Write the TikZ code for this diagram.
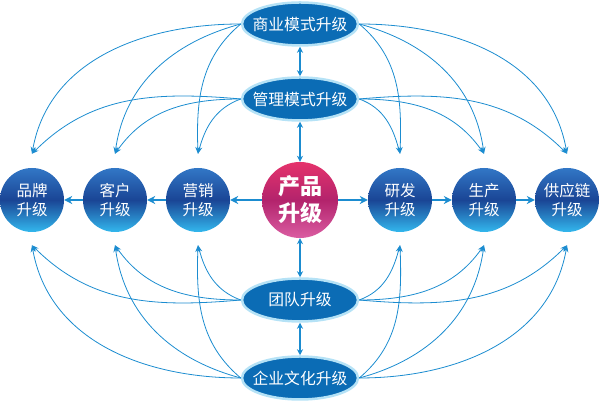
\documentclass[tikz,border=0pt]{standalone}
\usepackage{fontspec}
\setmainfont{Noto Sans CJK SC}
\usetikzlibrary{arrows.meta,shapes.geometric}
\definecolor{linkblue}{HTML}{1B8CD0}
\definecolor{ovalblue}{HTML}{0B6CB5}
\definecolor{ovalrim}{HTML}{B5E2F6}
\definecolor{balltop}{HTML}{3277C6}
\definecolor{ballmid}{HTML}{1A4595}
\definecolor{ballbot}{HTML}{33B8EE}
\definecolor{rosetop}{HTML}{E5336C}
\definecolor{rosemid}{HTML}{B3236C}
\definecolor{rosebot}{HTML}{DA5DA2}
\tikzset{
	oval/.style={ellipse, fill=ovalblue, draw=ovalrim, line width=2.5pt, minimum width=116pt, minimum height=43pt, inner xsep=-7pt, inner ysep=0pt, text=white, font=\fontsize{15.8}{18}\selectfont},
	ball/.style={circle, minimum size=64pt, inner sep=0pt, top color=balltop, bottom color=ballbot, middle color=ballmid, text=white, align=center, font=\fontsize{15.5}{19}\selectfont},
	hub/.style={circle, minimum size=76pt, inner sep=0pt, top color=rosetop, bottom color=rosebot, middle color=rosemid, text=white, align=center, font=\bfseries\fontsize{22}{27}\selectfont},
	link/.style={draw=linkblue, line width=0.8pt, -{Stealth[length=7pt,width=5pt]}},
	flow/.style={draw=linkblue, line width=1.8pt, -{Stealth[length=8pt,width=8pt]}},
	duplex/.style={draw=linkblue, line width=1.5pt, {Stealth[length=6pt,width=6pt]}-{Stealth[length=6pt,width=6pt]}}
}
\begin{document}
\begin{tikzpicture}[x=1pt,y=1pt]
		\useasboundingbox (0,0) rectangle (600,403);
		
		\node[oval] (biz) at (300,379) {商业模式升级};
		\node[oval] (mgmt) at (300,304) {管理模式升级};
		\node[oval] (team) at (300,103) {团队升级};
		\node[oval] (culture) at (300,25) {企业文化升级};
		
		\node[ball] (brand) at (32,203) {品牌\\升级};
		\node[ball] (client) at (115,203) {客户\\升级};
		\node[ball] (sales) at (198,203) {营销\\升级};
		\node[hub] (product) at (300,203) {产品\\升级};
		\node[ball] (rnd) at (400,203) {研发\\升级};
		\node[ball] (make) at (484,203) {生产\\升级};
		\node[ball] (supply) at (567,203) {供应链\\升级};
		
		\path (brand.north) ++(0,14) coordinate (brand-n);
		\path (client.north) ++(0,14) coordinate (client-n);
		\path (sales.north) ++(0,14) coordinate (sales-n);
		\path (rnd.north) ++(0,14) coordinate (rnd-n);
		\path (make.north) ++(0,14) coordinate (make-n);
		\path (supply.north) ++(0,14) coordinate (supply-n);
		\path (brand.south) ++(0,-13) coordinate (brand-s);
		\path (client.south) ++(0,-13) coordinate (client-s);
		\path (sales.south) ++(0,-13) coordinate (sales-s);
		\path (rnd.south) ++(0,-13) coordinate (rnd-s);
		\path (make.south) ++(0,-13) coordinate (make-s);
		\path (supply.south) ++(0,-13) coordinate (supply-s);
		
		\draw[flow] (product) -- (sales);
		\draw[flow] (sales) -- (client);
		\draw[flow] (client) -- (brand);
		\draw[flow] (product) -- (rnd);
		\draw[flow] (rnd) -- (make);
		\draw[flow] (make) -- (supply);
		
		\draw[duplex] (biz) -- (mgmt);
		\draw[duplex] (mgmt) -- (product);
		\draw[duplex] (product) -- (team);
		\draw[duplex] (team) -- (culture);
		
		\draw[link] (biz.west) to[out=180,in=80] (brand-n);
		\draw[link] (biz.west) to[out=195,in=82] (client-n);
		\draw[link] (biz.west) to[out=220,in=92] (sales-n);
		\draw[link] (mgmt.west) to[out=175,in=45] (brand-n);
		\draw[link] (mgmt.west) to[out=180,in=55] (client-n);
		\draw[link] (mgmt.west) to[out=200,in=75] (sales-n);
		
		\draw[link] (biz.east) to[out=0,in=100] (supply-n);
		\draw[link] (biz.east) to[out=-15,in=98] (make-n);
		\draw[link] (biz.east) to[out=-40,in=88] (rnd-n);
		\draw[link] (mgmt.east) to[out=5,in=135] (supply-n);
		\draw[link] (mgmt.east) to[out=0,in=125] (make-n);
		\draw[link] (mgmt.east) to[out=-20,in=105] (rnd-n);
		
		\draw[link] (culture.west) to[out=180,in=-80] (brand-s);
		\draw[link] (culture.west) to[out=165,in=-82] (client-s);
		\draw[link] (culture.west) to[out=140,in=-92] (sales-s);
		\draw[link] (team.west) to[out=185,in=-45] (brand-s);
		\draw[link] (team.west) to[out=180,in=-55] (client-s);
		\draw[link] (team.west) to[out=160,in=-75] (sales-s);
		
		\draw[link] (culture.east) to[out=0,in=-100] (supply-s);
		\draw[link] (culture.east) to[out=15,in=-98] (make-s);
		\draw[link] (culture.east) to[out=40,in=-88] (rnd-s);
		\draw[link] (team.east) to[out=-5,in=-135] (supply-s);
		\draw[link] (team.east) to[out=0,in=-125] (make-s);
		\draw[link] (team.east) to[out=20,in=-105] (rnd-s);
\end{tikzpicture}
\end{document}
